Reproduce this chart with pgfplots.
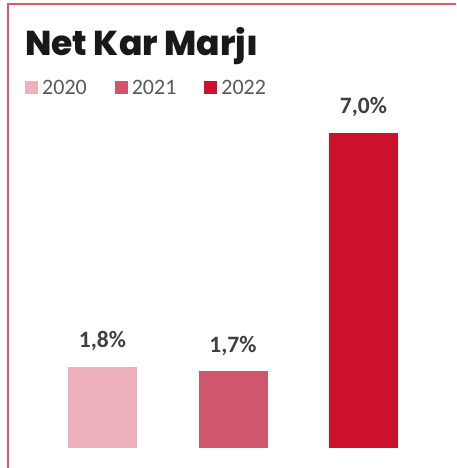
\documentclass[border=0pt]{standalone}
\usepackage{fontspec}
\setmainfont{Carlito}
\newfontfamily\poppins{Poppins ExtraBold}
\usepackage{pgfplots}
\pgfplotsset{compat=1.18}

\definecolor{c2020}{HTML}{EEB0BC}
\definecolor{c2021}{HTML}{CF566B}
\definecolor{c2022}{HTML}{CC112D}
\definecolor{frame}{HTML}{DC5A6A}
\definecolor{lbl}{HTML}{404040}
\definecolor{legtxt}{HTML}{595959}

\begin{document}
\begin{tikzpicture}[x=1pt,y=1pt]
  \useasboundingbox (0,0) rectangle (456,468);
  \fill[white] (0,0) rectangle (456,468);
  % frame
  \draw[frame, line width=2pt] (7.5,0) -- (7.5,464) -- (456,464);
  % title
  \node[anchor=base west, inner sep=0, text=black!90] at (25,412)
    {\poppins\fontsize{34.5}{40}\selectfont Net Kar Marjı};

  \begin{axis}[
    at={(37.25pt,20pt)}, anchor=south west,
    scale only axis,
    width=391.5pt, height=360pt,
    xmin=-0.5, xmax=2.5,
    ymin=0, ymax=8,
    axis lines=none,
    xtick=\empty, ytick=\empty,
    ybar, bar width=69pt, bar shift=0pt,
    point meta=explicit symbolic,
    nodes near coords,
    every node near coord/.append style={
      anchor=base, yshift=19pt, inner sep=0pt,
      text=lbl, font=\bfseries\fontsize{23.5}{28}\selectfont},
    clip=false,
    legend columns=3,
    legend style={
      at={(-0.0313,1.0)}, anchor=west,
      draw=none, fill=none, inner sep=0pt,
      font=\fontsize{22}{26}\selectfont, text=legtxt,
      /tikz/every even column/.append style={column sep=26pt}},
    legend image code/.code={
      \fill[#1] (0pt,-6.5pt) rectangle (13pt,6.5pt);
      \path (0pt,0pt) -- (15pt,0pt);},
  ]
    \addplot[fill=c2020, draw=none] coordinates {(0,1.8) [1,8\%]};
    \addlegendentry{2020}
    \addplot[fill=c2021, draw=none] coordinates {(1,1.7) [1,7\%]};
    \addlegendentry{2021}
    \addplot[fill=c2022, draw=none] coordinates {(2,7.0) [7,0\%]};
    \addlegendentry{2022}
  \end{axis}
\end{tikzpicture}
\end{document}
